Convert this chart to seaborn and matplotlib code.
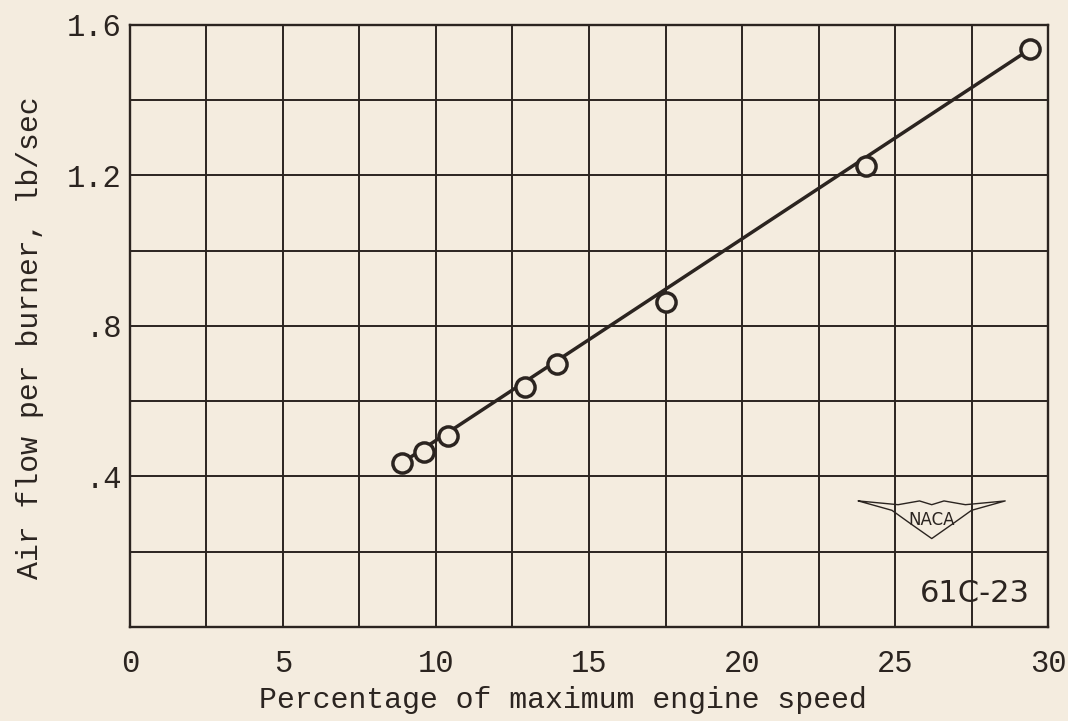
import numpy as np
import pandas as pd
import matplotlib
matplotlib.use("Agg")
import matplotlib.pyplot as plt
import seaborn as sns

# data
speed_pct = [8.9, 9.6, 10.4, 12.9, 13.95, 17.5, 24.05, 29.4]
air_flow = [0.436, 0.465, 0.508, 0.638, 0.699, 0.864, 1.226, 1.535]

# faired line through the points
fit_x = [8.9, 29.4]
fit_y = [0.437, 1.535]

x_ticks = [0, 2.5, 5, 7.5, 10, 12.5, 15, 17.5, 20, 22.5, 25, 27.5, 30]
x_labels = ["0", "", "5", "", "10", "", "15", "", "20", "", "25", "", "30"]
y_ticks = [0, 0.2, 0.4, 0.6, 0.8, 1.0, 1.2, 1.4, 1.6]
y_labels = ["", "", ".4", "", ".8", "", "1.2", "", "1.6"]

paper = "#f4ecdf"
ink = "#2b2420"

sns.set_theme(style="white")
plt.rcParams["font.family"] = ["Liberation Mono", "DejaVu Sans Mono"]

pts = pd.DataFrame({"speed": speed_pct, "flow": air_flow})
fit = pd.DataFrame({"speed": fit_x, "flow": fit_y})

fig = plt.figure(figsize=(10.68, 7.21), dpi=100)
fig.patch.set_facecolor(paper)
ax = fig.add_axes([0.1217, 0.1304, 0.8596, 0.835])
ax.set_facecolor(paper)

sns.lineplot(data=fit, x="speed", y="flow", ax=ax, color=ink, linewidth=2.5, zorder=3)
sns.scatterplot(data=pts, x="speed", y="flow", ax=ax, s=190, marker="o",
                facecolor=paper, edgecolor=ink, linewidth=2.5, zorder=4)

ax.set_xlim(0, 30)
ax.set_ylim(0, 1.6)
ax.set_xticks(x_ticks)
ax.set_xticklabels(x_labels)
ax.set_yticks(y_ticks)
ax.set_yticklabels(y_labels)
ax.tick_params(axis="x", length=0, labelsize=22, colors=ink, pad=16)
ax.tick_params(axis="y", length=0, labelsize=22, colors=ink, pad=6)
ax.grid(True, color=ink, linewidth=1.4)
ax.set_axisbelow(True)
for sp in ax.spines.values():
    sp.set_color(ink)
    sp.set_linewidth(1.7)

ax.set_xlabel("Percentage of maximum engine speed", fontsize=21.5, color=ink)
ax.xaxis.set_label_coords(0.472, -0.098)
ax.set_ylabel("Air flow per burner, lb/sec", fontsize=21.5, color=ink)
ax.yaxis.set_label_coords(-0.094, 0.48)

# NACA wing mark and figure number
ax.text(26.2, 0.285, "NACA", fontsize=12, color=ink, ha="center", va="center",
        family=["DejaVu Sans"])
wing_x = [23.8, 24.9, 25.5, 26.2, 26.9, 27.5, 28.6, 27.3, 26.6, 26.2, 25.8, 25.1, 23.8]
wing_y = [0.335, 0.31, 0.275, 0.235, 0.275, 0.31, 0.335, 0.325, 0.335, 0.325, 0.335, 0.325, 0.335]
ax.plot(wing_x, wing_y, color=ink, linewidth=1.0, zorder=3)
ax.text(27.6, 0.09, "61C-23", fontsize=22, color=ink, ha="center", va="center",
        family=["DejaVu Sans"])

fig.savefig("out.png", dpi=100, facecolor=paper)
